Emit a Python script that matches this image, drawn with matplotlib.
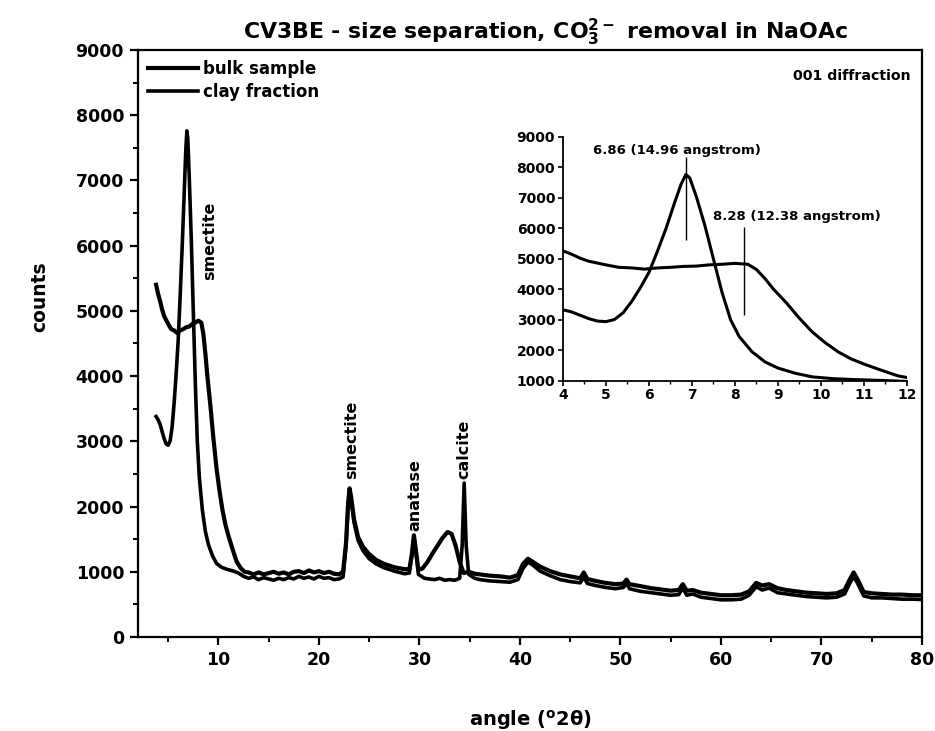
import matplotlib
matplotlib.use("Agg")
import matplotlib.pyplot as plt
from matplotlib.ticker import MultipleLocator

plt.rcParams['font.family'] = ['DejaVu Sans']
plt.rcParams['font.weight'] = 'bold'
plt.rcParams['mathtext.default'] = 'bf'

# ---------------- data ----------------
clay_x = [3.8, 4.0, 4.2, 4.4, 4.6, 4.8, 5.0, 5.2, 5.4, 5.6, 5.8, 6.0, 6.2, 6.4, 6.6, 6.75, 6.86, 6.95,
          7.1, 7.3, 7.5, 7.7, 7.9, 8.1, 8.4, 8.7, 9.0, 9.4, 9.8, 10.3, 10.8, 11.5, 12.0, 12.5,
          13, 13.5, 14, 14.5, 15, 15.5, 16, 16.5, 17, 17.5, 18, 18.5, 19, 19.5, 20, 20.5, 21, 21.5,
          22, 22.4, 22.7, 22.9, 23.05, 23.2, 23.5, 23.9, 24.4, 25, 25.7, 26.5, 27.5, 28.5, 29.0,
          29.25, 29.45, 29.65, 29.9, 30.5, 31, 31.5, 32, 32.5, 33, 33.5, 34, 34.25, 34.45, 34.65,
          34.9, 35.5, 36, 37, 38, 39, 39.8, 40.3, 40.8, 41.3, 42, 43, 44, 45, 46, 46.35, 46.7,
          47.5, 48.5, 49.5, 50.3, 50.6, 50.9, 52, 53, 54, 55, 55.8, 56.2, 56.6, 57.2, 58, 59, 60,
          61, 62, 62.8, 63.5, 64.1, 64.8, 65.6, 66.5, 67.5, 68.5, 69.5, 70.5, 71.5, 72.3, 72.8,
          73.2, 73.6, 74.2, 75, 76, 77, 78, 79, 80]
clay_y = [3380, 3330, 3260, 3150, 3040, 2960, 2940, 3010, 3230, 3600, 4050, 4550, 5250, 6000, 6850,
          7450, 7760, 7650, 7050, 6100, 5000, 3900, 3000, 2450, 1950, 1620, 1420, 1250, 1130, 1070,
          1040, 1010, 980, 930,
          900, 920, 880, 910, 890, 870, 900, 880, 910, 890, 930, 900, 920, 890, 930, 900, 910, 880,
          890, 920, 1400, 2000, 2240, 2100, 1750, 1480, 1320, 1200, 1120, 1060, 1010, 970, 980,
          1250, 1540, 1300, 960, 900, 890, 880, 900, 870, 880, 870, 900, 1400, 2360, 1400,
          960, 900, 880, 860, 850, 840, 880, 1050, 1150, 1100, 1010, 940, 880, 850, 830, 920, 820,
          790, 760, 740, 760, 820, 740, 700, 680, 660, 640, 650, 750, 640, 660, 610, 590, 570,
          570, 580, 640, 770, 720, 750, 680, 660, 640, 620, 610, 600, 610, 660, 820,
          930, 820, 630, 600, 600, 590, 580, 580, 575]

bulk_x = [3.8, 4.0, 4.2, 4.4, 4.6, 4.8, 5.0, 5.3, 5.6, 5.9, 6.2, 6.5, 6.8, 7.1, 7.4, 7.7, 8.0, 8.3,
          8.5, 8.7, 8.9, 9.2, 9.5, 9.8, 10.1, 10.4, 10.7, 11.0, 11.4, 11.8, 12.2, 12.6,
          13, 13.5, 14, 14.5, 15, 15.5, 16, 16.5, 17, 17.5, 18, 18.5, 19, 19.5, 20, 20.5, 21, 21.5,
          22, 22.4, 22.7, 22.9, 23.05, 23.2, 23.5, 23.9, 24.4, 25, 25.7, 26.5, 27.5, 28.5, 29.0,
          29.25, 29.45, 29.65, 29.9, 30.3, 30.8, 31.3, 31.8, 32.3, 32.8, 33.2, 33.6, 34.0, 34.4,
          34.9, 35.5, 36, 37, 38, 39, 39.8, 40.3, 40.8, 41.3, 42, 43, 44, 45, 46, 46.35, 46.7,
          47.5, 48.5, 49.5, 50.3, 50.6, 50.9, 52, 53, 54, 55, 55.8, 56.2, 56.6, 57.2, 58, 59, 60,
          61, 62, 62.8, 63.5, 64.1, 64.8, 65.6, 66.5, 67.5, 68.5, 69.5, 70.5, 71.5, 72.3, 72.8,
          73.2, 73.6, 74.2, 75, 76, 77, 78, 79, 80]
bulk_y = [5400, 5260, 5150, 5020, 4920, 4860, 4800, 4720, 4700, 4660, 4700, 4720, 4750, 4760, 4800,
          4820, 4850, 4820, 4650, 4350, 4000, 3550, 3050, 2600, 2250, 1950, 1720, 1550, 1350, 1160,
          1060, 1000,
          990, 960, 990, 960, 980, 1000, 970, 990, 960, 1000, 1010, 980, 1020, 990, 1010, 980, 1000,
          970, 960, 1000, 1450, 2050, 2280, 2150, 1800, 1530, 1380, 1270, 1180, 1120, 1070, 1040,
          1040, 1280, 1560, 1330, 1030, 1050, 1150, 1280, 1400, 1520, 1610, 1580, 1400, 1150, 980,
          1000, 970, 960, 940, 930, 910, 950, 1120, 1200, 1150, 1080, 1010, 960, 930, 900, 990, 890,
          860, 830, 810, 820, 880, 810, 780, 750, 730, 710, 720, 810, 710, 720, 680, 660, 640,
          640, 650, 700, 830, 790, 810, 750, 720, 700, 680, 670, 660, 670, 720, 880,
          990, 880, 690, 670, 660, 650, 650, 640, 640]

peak_labels = ["smectite", "smectite", "anatase", "calcite"]
peak_label_x = [9.1, 23.3, 29.55, 34.4]
peak_label_y = [5480, 2420, 1620, 2420]

inset_notes = ["6.86 (14.96 angstrom)", "8.28 (12.38 angstrom)"]
inset_note_x = [6.65, 9.45]
inset_note_y = [8560, 6380]
inset_mark_x = [6.86, 8.2]
inset_mark_y0 = [5620, 3160]
inset_mark_y1 = [8340, 6050]

# ---------------- figure ----------------
fig = plt.figure(figsize=(9.35, 7.31), dpi=100)
ax = fig.add_axes([0.1476, 0.1286, 0.8385, 0.803])

ax.plot(bulk_x, bulk_y, color='black', lw=3.0, label='bulk sample', solid_joinstyle='round')
ax.plot(clay_x, clay_y, color='black', lw=2.6, label='clay fraction', solid_joinstyle='round')

ax.set_xlim(2, 80)
ax.set_ylim(0, 9000)
ax.xaxis.set_major_locator(MultipleLocator(10))
ax.xaxis.set_minor_locator(MultipleLocator(5))
ax.yaxis.set_major_locator(MultipleLocator(1000))
ax.yaxis.set_minor_locator(MultipleLocator(500))
ax.tick_params(which='major', direction='out', length=6, width=1.6, labelsize=12.5, pad=4)
ax.tick_params(which='minor', direction='out', length=3.5, width=1.4)
for s in ax.spines.values():
    s.set_linewidth(1.6)
for lab in ax.get_xticklabels() + ax.get_yticklabels():
    lab.set_fontweight('bold')

ax.set_xlabel('angle ($^{\\rm o}$2θ)', fontsize=14, fontweight='bold', labelpad=28)
ax.set_ylabel('counts', fontsize=13.5, fontweight='bold')
ax.yaxis.set_label_coords(-0.113, 0.58)

fig.text(0.583, 0.955, 'CV3BE - size separation, CO$_3^{2-}$ removal in NaOAc',
         ha='center', va='center', fontsize=15.8, fontweight='bold')

leg = ax.legend(loc='upper left', frameon=False, handlelength=3.0,
                handletextpad=0.3, borderaxespad=0.2, labelspacing=0.3,
                prop={'weight': 'bold', 'size': 12})

ax.text(0.985, 0.955, '001 diffraction', transform=ax.transAxes, ha='right', va='center',
        fontsize=10.2, fontweight='bold')

for t, x, y in zip(peak_labels, peak_label_x, peak_label_y):
    ax.text(x, y, t, rotation=90, ha='center', va='bottom', fontsize=11.5,
            fontweight='bold')

# ---------------- inset ----------------
ins = fig.add_axes([0.602, 0.479, 0.368, 0.334])
ins.plot(bulk_x, bulk_y, color='black', lw=2.2, solid_joinstyle='round')
ins.plot(clay_x, clay_y, color='black', lw=2.2, solid_joinstyle='round')
ins.set_xlim(4, 12)
ins.set_ylim(1000, 9000)
ins.spines['top'].set_visible(False)
ins.spines['right'].set_visible(False)
ins.spines['left'].set_linewidth(1.3)
ins.spines['bottom'].set_linewidth(1.3)
ins.xaxis.set_major_locator(MultipleLocator(1))
ins.xaxis.set_minor_locator(MultipleLocator(0.5))
ins.yaxis.set_major_locator(MultipleLocator(1000))
ins.tick_params(which='major', direction='out', length=3.5, width=1.2, labelsize=10, pad=2)
ins.tick_params(which='minor', direction='out', length=2, width=1.0)
for lab in ins.get_xticklabels() + ins.get_yticklabels():
    lab.set_fontweight('bold')
ins.patch.set_alpha(0)

for t, x, y in zip(inset_notes, inset_note_x, inset_note_y):
    ins.text(x, y, t, ha='center', va='center', fontsize=9.5, fontweight='bold')
ins.vlines(inset_mark_x, inset_mark_y0, inset_mark_y1, color='black', lw=1.0)

fig.savefig('out.png', dpi=100)
